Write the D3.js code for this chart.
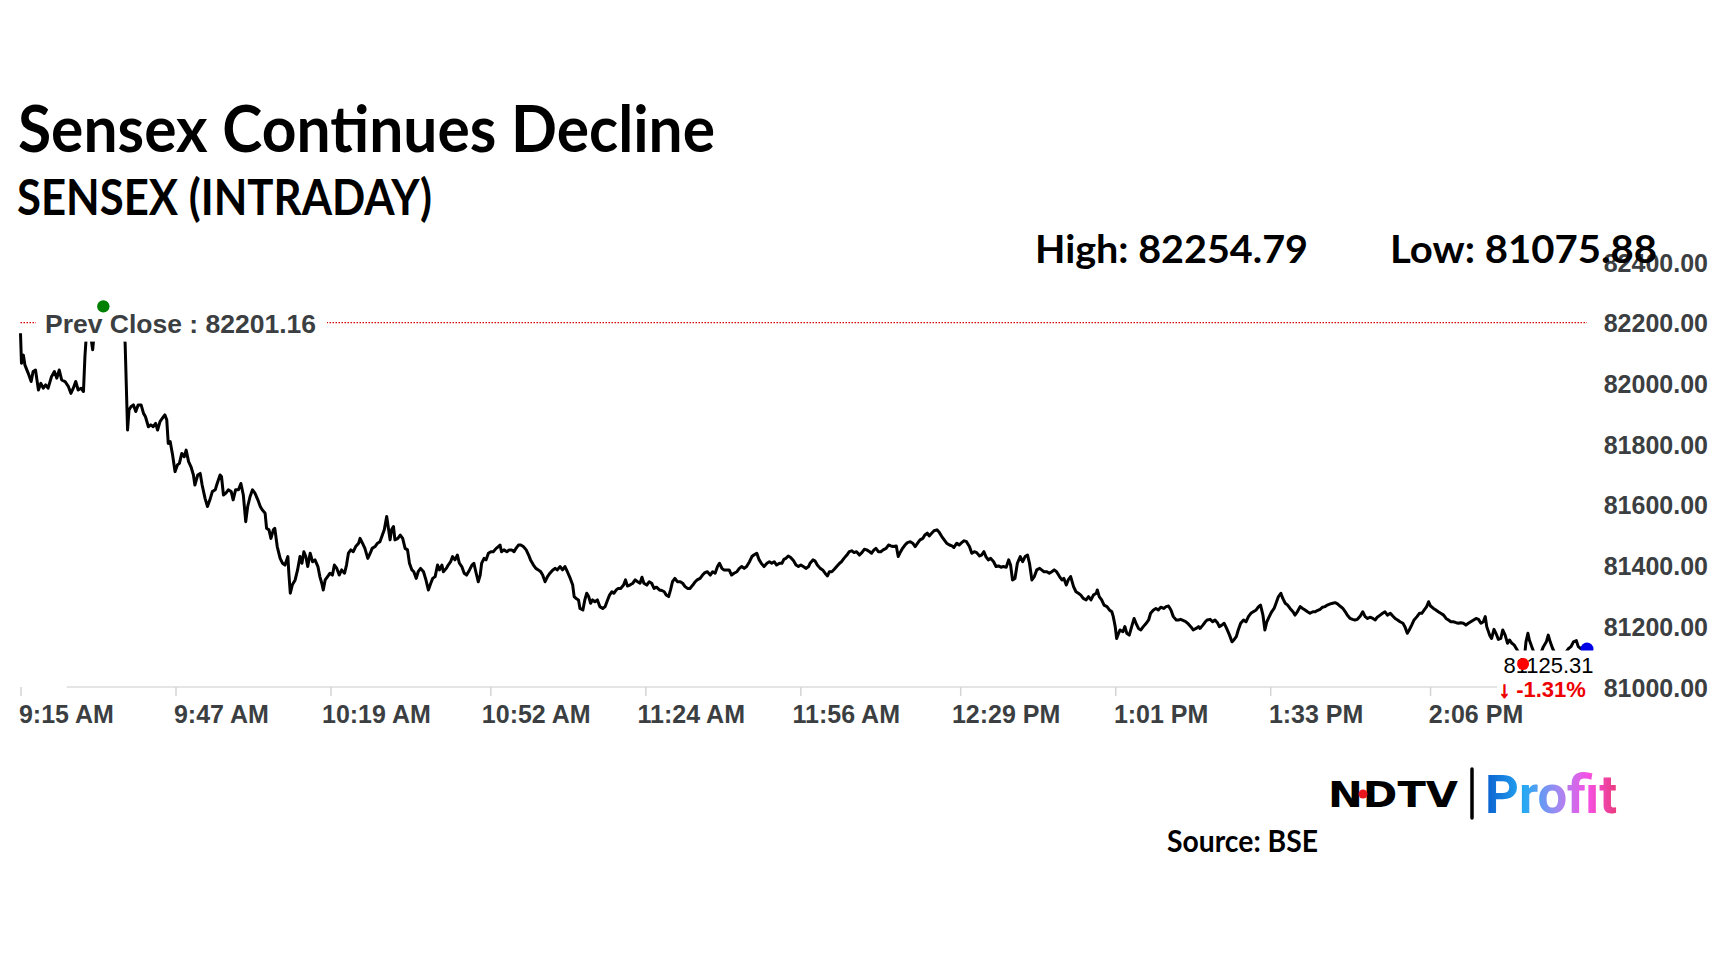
<!DOCTYPE html>
<html>
<head>
<meta charset="utf-8">
<script src="https://d3js.org/d3.v7.min.js"></script>
<style>
body { margin: 0; background: #fff; }
</style>
</head>
<body>
<div id="chart"></div>
<script>
// Sensex intraday values (minutes after 9:15 AM open)
const minutesFromOpen = [
  0, 0.2, 0.6, 0.9, 1.6, 2.2, 2.6, 3.1, 3.7, 4.2, 4.7, 5.2, 5.7, 6.4, 7.0, 7.5, 8.0, 8.5, 9.2, 9.9,
  10.4, 10.9, 11.4, 11.9, 12.5, 13.0, 13.3, 13.5,
  14.0, 14.6, 14.9, 15.2, 16.0, 16.6, 17.1, 17.8, 18.5, 19.3, 20.0, 20.8, 21.3, 21.6,
  22.1, 22.4, 22.8, 23.3, 23.8, 24.3, 24.9, 25.4, 25.8, 26.4, 26.9, 27.4, 27.9, 28.3, 28.8, 29.3, 29.8, 30.2, 30.5, 30.9,
  31.4, 31.9, 32.4, 32.8, 33.3, 33.8, 34.2, 34.7, 35.2, 35.7, 36.0, 36.6, 37.1, 37.5, 38.1, 38.6, 39.1, 39.6, 40.2, 40.6,
  41.2, 41.5, 41.9, 42.4, 42.9, 43.5, 43.9, 44.4, 45.0, 45.5, 46.0, 46.5, 46.9, 47.4, 47.9, 48.4, 49.0, 49.5, 49.9, 50.5,
  50.8, 51.3, 51.7, 52.2, 52.5, 53.0, 53.6, 54.1, 54.6, 55.2, 55.4, 55.7, 56.1, 56.7, 57.2, 57.7, 58.1, 58.5, 58.9, 59.3,
  59.8, 60.3, 60.8, 61.4, 61.8, 62.2, 62.5, 62.9, 63.4, 63.9, 64.4, 64.8, 65.3, 65.8, 66.3, 66.9, 67.3, 67.7, 68.2, 68.7,
  69.2, 69.8, 70.1, 70.6, 71.1, 71.7, 72.2, 72.6, 73.2, 73.7, 74.2, 74.6, 75.1, 75.6, 75.9, 76.3, 76.6, 77.0, 77.3, 77.9,
  78.4, 78.9, 79.4, 79.9, 80.3, 80.8, 81.2, 81.7, 82.1, 82.6, 83.2, 83.7, 84.2, 84.7, 85.1, 85.6, 86.1, 86.5, 87.0, 87.3,
  87.9, 88.3, 88.8, 89.2, 89.7, 90.2, 90.6, 91.1, 91.6, 92.1, 92.7, 93.2, 93.6, 94.0, 94.5, 94.9, 95.2, 95.7, 96.1, 96.6,
  97.1, 97.6, 98.2, 98.7, 99.0, 99.3, 99.8, 100.4, 100.9, 101.4, 101.9, 102.3, 102.8, 103.3, 103.8, 104.4, 104.9, 105.3, 105.9, 106.4,
  106.9, 107.4, 107.8, 108.3, 108.8, 109.3, 109.9, 110.4, 110.8, 111.4, 111.9, 112.4, 112.9, 113.5, 114.0, 114.3, 114.7, 115.2, 115.5, 116.1,
  116.5, 116.9, 117.3, 117.7, 118.1, 118.6, 119.1, 119.6, 120.2, 120.7, 121.2, 121.6, 122.1, 122.5, 123.0, 123.4, 123.9, 124.5, 124.9, 125.3,
  125.8, 126.4, 126.9, 127.4, 127.9, 128.3, 128.7, 129.3, 129.8, 130.3, 130.8, 131.3, 131.9, 132.4, 132.9, 133.3, 133.8, 134.2, 134.6, 135.1,
  135.6, 136.2, 136.7, 137.2, 137.7, 138.2, 138.8, 139.3, 139.7, 140.3, 140.8, 141.3, 141.8, 142.4, 142.9, 143.4, 143.9, 144.3, 144.8, 145.2,
  145.8, 146.3, 146.8, 147.3, 147.9, 148.4, 148.9, 149.4, 149.9, 150.5, 151.0, 151.4, 152.0, 152.5, 153.0, 153.5, 154.1, 154.6, 155.1, 155.6,
  156.1, 156.7, 157.2, 157.6, 158.0, 158.5, 159.0, 159.6, 160.1, 160.6, 161.1, 161.6, 162.2, 162.7,
  163.0, 163.6, 164.0, 164.5, 165.1, 165.6, 166.1, 166.6, 167.0, 167.5, 168.0, 168.5, 169.1, 169.5, 170.0, 170.6, 171.1, 171.6, 172.1, 172.6,
  173.2, 173.7, 174.2, 174.7, 175.3, 175.7, 176.2, 176.6, 177.1, 177.6, 178.1, 178.7, 179.2, 179.7, 180.2, 180.8, 181.2, 181.7, 182.1, 182.6,
  183.1, 183.7, 184.2, 184.7, 185.2, 185.7, 186.3, 186.7, 187.2, 187.6, 188.1, 188.6, 189.2, 189.7, 190.2, 190.7, 191.2, 191.8, 192.3, 192.7,
  193.3, 193.8, 194.3, 194.8, 195.3, 195.9, 196.4, 196.9, 197.4, 198.0, 198.4, 198.9, 199.3, 199.8, 200.3, 200.9, 201.4, 201.9, 202.4, 202.9,
  203.5, 204.0, 204.4, 204.8, 205.3, 205.8, 206.4, 206.9, 207.4, 207.9, 208.3, 208.8, 209.3, 209.8, 210.4, 210.8, 211.3, 211.9, 212.4, 212.9,
  213.4, 213.9, 214.5, 215.0, 215.4, 215.9, 216.3, 216.8, 217.4, 217.9, 218.4, 218.9, 219.4, 220.0, 220.5, 221.0, 221.5, 222.1, 222.3, 222.7,
  223.2, 223.7, 224.3, 224.8, 225.3, 225.6, 226.0, 226.3, 226.7, 227.0, 227.6, 228.0, 228.4, 228.9, 229.4, 229.9, 230.3, 230.8, 231.3, 231.8,
  232.4, 232.9, 233.3, 233.9, 234.4, 234.9, 235.4, 236.0, 236.5, 237.0, 237.5, 238.0, 238.6, 239.1, 239.5, 240.1, 240.6, 241.1, 241.6, 242.1,
  242.7, 243.2,
  243.5, 244.1, 244.6, 245.0, 245.6, 246.1, 246.6, 247.1, 247.5, 248.0, 248.5, 249.0, 249.6, 250.1, 250.5, 251.0, 251.4, 251.9, 252.5, 253.0,
  253.5, 254.0, 254.5, 255.1, 255.6, 256.0, 256.5, 256.9, 257.3, 257.8, 258.3, 258.8, 259.2, 259.7, 260.2, 260.6, 261.1, 261.6, 262.1, 262.7,
  263.1, 263.6, 264.2, 264.7, 265.2, 265.7, 266.2, 266.8, 267.3, 267.7, 268.3, 268.8, 269.3, 269.8, 270.4, 270.9, 271.4, 271.9, 272.4, 273.0,
  273.5, 273.9, 274.5, 275.0, 275.5, 276.0, 276.6, 277.1, 277.6, 278.1, 278.6, 279.2, 279.7, 280.1, 280.7, 281.2, 281.7, 282.2, 282.8, 283.3,
  283.8, 284.3, 284.8, 285.4, 285.8, 286.3, 286.7, 287.2, 287.7, 288.3, 288.8, 289.3, 289.8, 290.3, 290.7, 291.1, 291.7, 292.2, 292.7, 293.2,
  293.8, 294.3, 294.8, 295.3, 295.8, 296.4, 296.9, 297.3, 297.9, 298.4, 298.9, 299.4, 300.0, 300.5, 301.0, 301.5, 302.0, 302.4, 302.7, 303.3,
  303.7, 304.2, 304.6, 305.1, 305.6, 306.0, 306.5, 307.0, 307.4, 307.9, 308.4, 308.8, 309.2, 309.7, 310.2, 310.6, 310.8, 311.2, 311.5, 312.0,
  312.5, 313.0, 313.7, 314.4, 315.0, 315.4, 315.8, 316.3, 316.8, 317.5, 318.2, 319.1, 319.6, 320.1, 320.6, 321.2, 321.6, 322.1, 322.7, 323.4
];

const sensex = [
  82166, 82067, 82094, 82062, 82034, 82007, 82040, 82045, 81979, 82001, 81985, 81996, 81985, 82023, 82040, 82018, 82045, 82012, 82007, 81990,
  81968, 81985, 82007, 81979, 81985, 81974, 82089, 82138,
  82190, 82145, 82112, 82165, 82210, 82235, 82254.79, 82230, 82240, 82215, 82225, 82200, 82185, 82133,
  81847, 81913, 81924, 81930, 81908, 81930, 81930, 81902, 81891, 81858, 81864, 81858, 81869, 81847, 81875, 81886, 81897, 81880, 81803, 81809,
  81765, 81710, 81732, 81737, 81770, 81759, 81781, 81743, 81726, 81699, 81666, 81699, 81704, 81666, 81622, 81595, 81617, 81644, 81650, 81671,
  81699, 81693, 81633, 81639, 81650, 81644, 81617, 81650, 81650, 81671, 81633, 81545, 81595, 81628, 81650, 81639, 81617, 81595, 81584, 81573,
  81523, 81518, 81490, 81518, 81523, 81463, 81424, 81408, 81402, 81430, 81375, 81309, 81336, 81353, 81386, 81430, 81408, 81446, 81430, 81397,
  81441, 81413, 81419, 81397, 81364, 81342, 81320, 81353, 81364, 81375, 81369, 81402, 81391, 81369, 81386, 81375, 81402, 81441, 81452, 81446,
  81463, 81474, 81490, 81474, 81457, 81424, 81441, 81457, 81463, 81474, 81479, 81496, 81518, 81562, 81529, 81485, 81518, 81529, 81485, 81490,
  81501, 81490, 81457, 81452, 81408, 81386, 81380, 81358, 81380, 81391, 81380, 81353, 81320, 81342, 81358, 81364, 81402, 81386, 81402, 81380,
  81391, 81402, 81413, 81430, 81419, 81435, 81408, 81397, 81375, 81369, 81386, 81402, 81408, 81380, 81347, 81369, 81408, 81424, 81419, 81441,
  81446, 81446, 81457, 81463, 81468, 81446, 81452, 81446, 81452, 81452, 81446, 81457, 81468, 81468, 81463, 81452, 81435, 81419, 81402, 81391,
  81386, 81380, 81369, 81347, 81364, 81375, 81386, 81391, 81386, 81397, 81386, 81397, 81380, 81358, 81336, 81298, 81292, 81287, 81259, 81254,
  81287, 81309, 81298, 81276, 81287, 81281, 81287, 81265, 81259, 81265, 81287, 81303, 81314, 81309, 81320, 81325, 81325, 81336, 81353, 81333,
  81336, 81342, 81353, 81347, 81342, 81362, 81342, 81336, 81347, 81342, 81325, 81329, 81320, 81318, 81314, 81303, 81298, 81320, 81347, 81358,
  81347, 81347, 81342, 81331, 81325, 81325, 81336, 81347, 81353, 81358, 81369, 81377, 81380, 81369, 81380, 81375, 81397, 81408, 81391, 81386,
  81386, 81386, 81369, 81375, 81380, 81391, 81397, 81391, 81397, 81413, 81430, 81435, 81441, 81419, 81406, 81397, 81408, 81413, 81408, 81413,
  81402, 81408, 81408, 81421, 81424, 81432, 81427, 81416, 81402, 81397, 81402, 81397, 81391, 81397,
  81408, 81419, 81416, 81402, 81391, 81386, 81375, 81366, 81380, 81380, 81388, 81397, 81408, 81413, 81424, 81435, 81446, 81449, 81443, 81446,
  81435, 81443, 81454, 81452, 81446, 81441, 81452, 81457, 81446, 81446, 81452, 81457, 81468, 81465, 81463, 81465, 81430, 81446, 81457, 81468,
  81476, 81479, 81474, 81463, 81474, 81485, 81490, 81501, 81507, 81498, 81507, 81515, 81518, 81509, 81496, 81485, 81474, 81468, 81465, 81460,
  81474, 81468, 81476, 81482, 81479, 81463, 81441, 81446, 81443, 81432, 81435, 81446, 81430, 81419, 81424, 81413, 81397, 81399, 81395, 81397,
  81395, 81419, 81402, 81353, 81358, 81408, 81430, 81413, 81430, 81435, 81408, 81353, 81364, 81386, 81391, 81386, 81380, 81380, 81375, 81380,
  81386, 81380, 81364, 81353, 81358, 81336, 81353, 81364, 81331, 81314, 81309, 81303, 81292, 81287, 81298, 81287, 81303, 81309, 81320, 81298,
  81287, 81270, 81265, 81254, 81248, 81232, 81199, 81160, 81177, 81188, 81182, 81199, 81177, 81171, 81199, 81226, 81210, 81193, 81188, 81199,
  81210, 81221, 81243, 81254, 81259, 81254, 81263, 81259, 81265, 81267, 81254, 81232, 81221, 81221, 81223, 81219, 81215, 81208, 81199, 81188,
  81193, 81199,
  81193, 81204, 81215, 81221, 81223, 81215, 81221, 81212, 81199, 81204, 81210, 81193, 81171, 81149, 81155, 81166, 81188, 81210, 81221, 81215,
  81232, 81243, 81248, 81254, 81265, 81270, 81237, 81188, 81215, 81232, 81248, 81259, 81276, 81298, 81309, 81292, 81276, 81270, 81259, 81248,
  81237, 81248, 81265, 81259, 81254, 81248, 81243, 81248, 81248, 81252, 81256, 81263, 81265, 81270, 81274, 81276, 81278, 81274, 81267, 81259,
  81248, 81237, 81226, 81223, 81221, 81223, 81234, 81248, 81232, 81226, 81230, 81226, 81221, 81230, 81237, 81243, 81248, 81237, 81243, 81234,
  81226, 81221, 81215, 81210, 81199, 81177, 81188, 81204, 81221, 81232, 81243, 81243, 81254, 81265, 81281, 81267, 81259, 81254, 81248, 81243,
  81237, 81226, 81221, 81215, 81215, 81212, 81210, 81212, 81210, 81204, 81210, 81215, 81221, 81226, 81223, 81210, 81215, 81232, 81199, 81171,
  81160, 81190, 81177, 81157, 81160, 81188, 81171, 81144, 81155, 81144, 81138, 81127, 81116, 81094, 81075.88, 81116, 81149, 81177, 81155, 81133,
  81111, 81094, 81105, 81133, 81149, 81171, 81149, 81127, 81111, 81098, 81100, 81116, 81127, 81133, 81149, 81153, 81133, 81127, 81133, 81125.31
];

const prevClose = 82201.16;
const xTickLabels = ["9:15 AM", "9:47 AM", "10:19 AM", "10:52 AM", "11:24 AM", "11:56 AM", "12:29 PM", "1:01 PM", "1:33 PM", "2:06 PM"];
const yTicks = [81000, 81200, 81400, 81600, 81800, 82000, 82200, 82400];

const titleText = "Sensex Continues Decline";
const subtitleText = "SENSEX (INTRADAY)";
const sourceText = "Source: BSE";

const axisFont = "'Liberation Sans', Arial, sans-serif";
const headFont = "Lato, 'Open Sans', sans-serif";

const svg = d3.select("#chart").append("svg")
    .attr("width", 1728)
    .attr("height", 972)
    .style("background", "#fff");

const parseTime = d3.timeParse("%I:%M %p");
const open = parseTime(xTickLabels[0]);

let data = minutesFromOpen.map(function (m, i) {
    return { time: new Date(+open + m * 60000), value: sensex[i] };
});

const x = d3.scaleTime()
    .domain(d3.extent(data, d => d.time))
    .range([20.5, 1587]);

const y = d3.scaleLinear()
    .domain([yTicks[0], yTicks[yTicks.length - 1]])
    .range([687, 262.3]);

// y axis labels on the right
const yAxis = d3.axisLeft(y).tickValues(yTicks).tickFormat(d3.format(".2f")).tickSize(0).tickPadding(0);
svg.append("g").attr("transform", "translate(1708,0)").call(yAxis)
    .call(g => g.select(".domain").remove())
    .selectAll("text")
    .attr("fill", "#3c3f42")
    .attr("font-size", 25)
    .attr("font-weight", "bold")
    .attr("font-family", axisFont)
    .attr("dy", "0.36em");

// x axis
svg.append("line")
    .attr("x1", 66.7).attr("x2", 1593)
    .attr("y1", y(yTicks[0])).attr("y2", y(yTicks[0]))
    .attr("stroke", "#dcdcdc").attr("stroke-width", 1.5);

const xAxis = d3.axisBottom(x)
    .tickValues(xTickLabels.map(t => parseTime(t)))
    .tickFormat(d3.timeFormat("%-I:%M %p"))
    .tickSize(9);

svg.append("g").attr("transform", "translate(0," + y(yTicks[0]) + ")").call(xAxis)
    .call(g => g.select(".domain").remove())
    .call(g => g.selectAll(".tick line").attr("stroke", "#d4d4d4").attr("stroke-width", 1.5))
    .call(g => g.selectAll(".tick text")
        .attr("x", 45.4)
        .attr("y", 36)
        .attr("dy", 0)
        .attr("fill", "#3c3f42")
        .attr("font-size", 25)
        .attr("font-weight", "bold")
        .attr("font-family", axisFont));

// previous close reference line
svg.append("line")
    .attr("x1", x.range()[0]).attr("x2", x.range()[1])
    .attr("y1", y(prevClose)).attr("y2", y(prevClose))
    .attr("stroke", "#d60000")
    .attr("stroke-width", 1.2)
    .attr("stroke-dasharray", "1.5,1.5");

// price line
const line = d3.line().x(d => x(d.time)).y(d => y(d.value));
svg.append("path")
    .datum(data)
    .attr("d", line)
    .attr("fill", "none")
    .attr("stroke", "#000")
    .attr("stroke-width", 3)
    .attr("stroke-linejoin", "round");

const last = data[data.length - 1];
const high = data[d3.maxIndex(data, d => d.value)];
const low = data[d3.minIndex(data, d => d.value)];

svg.append("circle")
    .attr("cx", x(last.time)).attr("cy", y(last.value))
    .attr("r", 6.5).attr("fill", "#0000e6");

// prev close label
let pcY = y(prevClose);
svg.append("rect")
    .attr("x", 36).attr("y", pcY - 17)
    .attr("width", 291).attr("height", 36)
    .attr("fill", "#fff");
svg.append("text")
    .attr("x", 45).attr("y", pcY + 10.5)
    .attr("font-family", axisFont)
    .attr("font-weight", "bold")
    .attr("font-size", 26.5)
    .attr("fill", "#3c3f42")
    .text("Prev Close : " + prevClose.toFixed(2));

svg.append("circle")
    .attr("cx", x(high.time)).attr("cy", y(high.value))
    .attr("r", 6.2).attr("fill", "#008000");

// last value label
svg.append("rect")
    .attr("x", 1497).attr("y", 650.5)
    .attr("width", 100).attr("height", 52)
    .attr("fill", "#fff");
svg.append("text")
    .attr("x", 1548.5).attr("y", 673)
    .attr("text-anchor", "middle")
    .attr("font-family", axisFont)
    .attr("font-size", 22)
    .attr("fill", "#000")
    .text(last.value.toFixed(2));
let pct = (last.value - prevClose) / prevClose * 100;
let pctText = svg.append("text")
    .attr("x", 1542.5).attr("y", 697)
    .attr("text-anchor", "middle")
    .attr("font-family", axisFont)
    .attr("font-weight", "bold")
    .attr("font-size", 22)
    .attr("fill", "#ee0000");
pctText.append("tspan").attr("stroke", "#ee0000").attr("stroke-width", 1.2).text("\u2193");
pctText.append("tspan").text(" " + pct.toFixed(2) + "%");

svg.append("circle")
    .attr("cx", x(low.time)).attr("cy", y(low.value))
    .attr("r", 6).attr("fill", "#ff0000");

// headings
function headText(str, px, py, size, len) {
    svg.append("text")
        .attr("x", px).attr("y", py)
        .attr("font-family", headFont)
        .attr("font-weight", "bold")
        .attr("font-size", size)
        .attr("fill", "#000")
        .attr("textLength", len)
        .attr("lengthAdjust", "spacingAndGlyphs")
        .text(str);
}
headText(titleText, 18, 151.7, 65, 697);
headText(subtitleText, 17, 215, 49, 415);
headText("High: " + high.value.toFixed(2), 1035, 263, 39, 273);
headText("Low: " + low.value.toFixed(2), 1390, 263, 39, 267);
headText(sourceText, 1167, 852, 31, 151);

// NDTV Profit logo
const defs = svg.append("defs");
const grad = defs.append("linearGradient").attr("id", "profitGrad")
    .attr("x1", "0%").attr("x2", "100%").attr("y1", "0%").attr("y2", "0%");
[["0%", "#0a5fcf"], ["30%", "#27a9f3"], ["55%", "#a08af2"], ["78%", "#f650e4"], ["100%", "#ea3a7c"]]
    .forEach(s => grad.append("stop").attr("offset", s[0]).attr("stop-color", s[1]));

svg.append("text")
    .attr("x", 1328).attr("y", 807)
    .attr("font-family", "'DejaVu Sans', sans-serif")
    .attr("font-weight", "bold")
    .attr("font-size", 36)
    .attr("textLength", 130)
    .attr("lengthAdjust", "spacingAndGlyphs")
    .attr("fill", "#000")
    .text("NDTV");
svg.append("circle").attr("cx", 1363).attr("cy", 794).attr("r", 4.5).attr("fill", "#e8161d");
svg.append("line")
    .attr("x1", 1472).attr("x2", 1472).attr("y1", 769).attr("y2", 818)
    .attr("stroke", "#000").attr("stroke-width", 3.5).attr("stroke-linecap", "round");
svg.append("text")
    .attr("x", 1485).attr("y", 813)
    .attr("font-family", "Roboto, Inter, sans-serif")
    .attr("font-weight", "bold")
    .attr("font-size", 53)
    .attr("textLength", 132)
    .attr("lengthAdjust", "spacingAndGlyphs")
    .attr("fill", "url(#profitGrad)")
    .text("Profit");
</script>
</body>
</html>
